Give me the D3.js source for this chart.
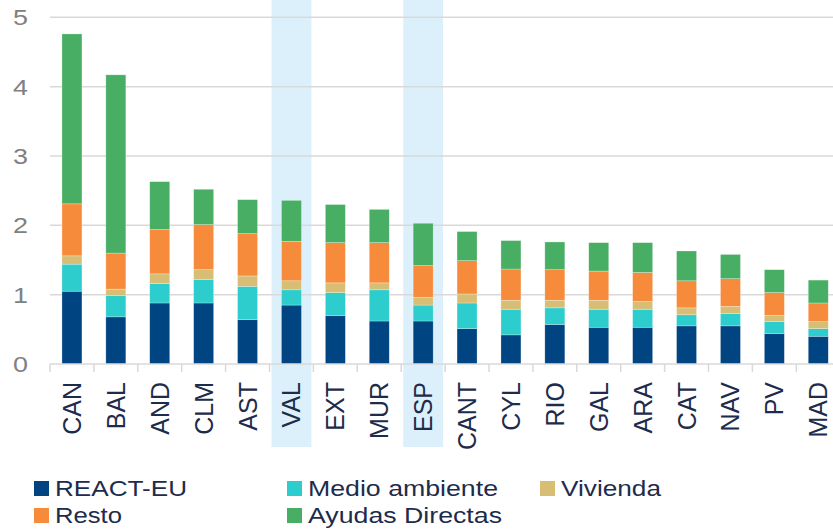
<!DOCTYPE html>
<html><head><meta charset="utf-8">
<script src="https://cdn.jsdelivr.net/npm/d3@7"></script>
<style>html,body{margin:0;padding:0;background:#fff;}svg{display:block;}</style>
</head><body>
<svg id="chart" width="833" height="530"></svg>
<script>
const categories = ["CAN","BAL","AND","CLM","AST","VAL","EXT","MUR","ESP","CANT","CYL","RIO","GAL","ARA","CAT","NAV","PV","MAD"];
const highlighted = ["VAL","ESP"];
const seriesNames = ["REACT-EU","Medio ambiente","Vivienda","Resto","Ayudas Directas"];
const seriesColors = ["#004481","#2dcccd","#d8be75","#f78b3c","#48ae64"];
const reactEU      = [1.05,0.68,0.88,0.88,0.64,0.85,0.70,0.62,0.62,0.51,0.42,0.57,0.53,0.53,0.55,0.55,0.44,0.40];
const medioAmb     = [0.39,0.31,0.28,0.34,0.48,0.22,0.33,0.45,0.23,0.37,0.37,0.24,0.26,0.26,0.16,0.18,0.17,0.11];
const vivienda     = [0.12,0.09,0.14,0.14,0.15,0.13,0.14,0.10,0.11,0.13,0.13,0.11,0.13,0.11,0.10,0.10,0.09,0.10];
const resto        = [0.75,0.52,0.64,0.65,0.61,0.57,0.58,0.58,0.46,0.48,0.45,0.44,0.42,0.42,0.39,0.40,0.33,0.27];
const ayudas       = [2.45,2.57,0.69,0.51,0.49,0.59,0.55,0.48,0.61,0.42,0.41,0.40,0.41,0.43,0.43,0.35,0.33,0.33];
const yTicks = [0,1,2,3,4,5];

const seriesValues = [reactEU, medioAmb, vivienda, resto, ayudas];
const table = categories.map((c,i)=>{ const o={cat:c}; seriesNames.forEach((s,j)=>o[s]=seriesValues[j][i]); return o; });

const svg = d3.select("#chart");
const x = d3.scaleBand().domain(categories).range([50, 50 + 43.9*categories.length]).paddingInner(0).paddingOuter(0);
const y = d3.scaleLinear().domain([0,5]).range([364, 17.3]);

// highlight bands
svg.append("g").selectAll("rect").data(highlighted).join("rect")
  .attr("x", d=>x(d)+2).attr("y",0).attr("width", x.bandwidth()-4).attr("height",447)
  .attr("fill","#dcf0fc");

// gridlines
svg.append("g").selectAll("line").data(yTicks.filter(t=>t>0)).join("line")
  .attr("x1",50).attr("x2",833).attr("y1",d=>y(d)).attr("y2",d=>y(d))
  .attr("stroke","#d9d9d9").attr("stroke-width",1.5);

// y labels
svg.append("g").selectAll("text").data(yTicks).join("text")
  .attr("x",13).attr("y",d=>y(d)+8)
  .attr("textLength",15).attr("lengthAdjust","spacingAndGlyphs")
  .attr("font-family","'Liberation Sans', Arial, sans-serif").attr("font-size",22)
  .attr("fill","#808080").text(d=>d);

// stacked bars
const stack = d3.stack().keys(seriesNames)(table);
const bw = 20;
svg.append("g").selectAll("g").data(stack).join("g")
  .attr("fill",(d,i)=>seriesColors[i])
  .selectAll("rect").data(d=>d).join("rect")
  .attr("x",d=>x(d.data.cat)+x.bandwidth()/2-bw/2)
  .attr("y",d=>y(d[1])).attr("width",bw).attr("height",d=>y(d[0])-y(d[1]))
  .attr("stroke","rgba(255,255,255,0.45)").attr("stroke-width",0.6);

// x axis
const xAxis = svg.append("g");
xAxis.append("line").attr("x1",50).attr("x2",833).attr("y1",364).attr("y2",364)
  .attr("stroke","#d9d9d9").attr("stroke-width",1.5);
xAxis.selectAll("line.tick").data(d3.range(categories.length+1)).join("line").attr("class","tick")
  .attr("x1",i=>50+i*x.bandwidth()).attr("x2",i=>50+i*x.bandwidth())
  .attr("y1",364).attr("y2",372).attr("stroke","#d9d9d9").attr("stroke-width",1.5);
xAxis.selectAll("text").data(categories).join("text")
  .attr("transform",d=>`translate(${x(d)+x.bandwidth()/2+9},382) rotate(-90)`)
  .attr("text-anchor","end")
  .attr("font-family","'Liberation Sans', Arial, sans-serif").attr("font-size",25)
  .attr("fill","#1d2c4c").text(d=>d);

// legend
const legendPos = [[34,496,132],[287,496,190],[540,496,100],[34,523,67],[287,523,194]];
const lg = svg.append("g").selectAll("g").data(seriesNames).join("g");
lg.append("rect").attr("x",(d,i)=>legendPos[i][0]).attr("y",(d,i)=>legendPos[i][1]-15)
  .attr("width",15).attr("height",15).attr("fill",(d,i)=>seriesColors[i]);
lg.append("text").attr("x",(d,i)=>legendPos[i][0]+21).attr("y",(d,i)=>legendPos[i][1])
  .attr("textLength",(d,i)=>legendPos[i][2]).attr("lengthAdjust","spacingAndGlyphs")
  .attr("font-family","'Liberation Sans', Arial, sans-serif").attr("font-size",22)
  .attr("fill","#1d2c4c").text(d=>d);
</script>
</body></html>
